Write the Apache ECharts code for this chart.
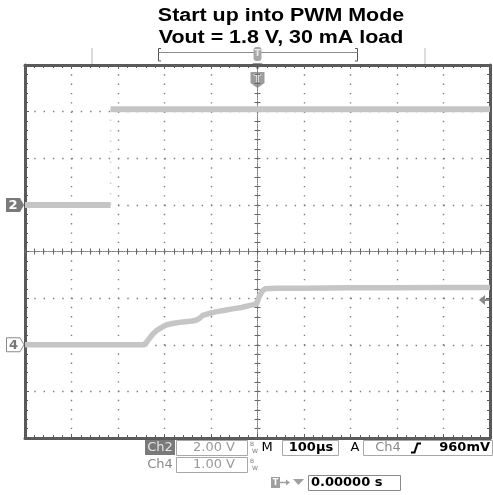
<!DOCTYPE html>
<html>
<head>
<meta charset="utf-8">
<script src="https://cdn.jsdelivr.net/npm/echarts@6/dist/echarts.min.js"></script>
<style>
  html, body { margin: 0; padding: 0; background: #ffffff; }
  #scope { width: 493px; height: 495px; }
</style>
</head>
<body>
<div id="scope"></div>
<script>
// ---- Acquisition: 100 µs/div, trigger at t = 0 (centre of screen) ----
const timeRange = [-500, 500];          // µs, 10 divisions
const divRange = [-4, 4];               // vertical divisions

// Ch2 (2.00 V/div, ground marker one division above centre)
const ch2Time  = [-500, -316, -316, 500];      // µs
const ch2Volts = [0.0, 0.0, 4.1, 4.1];         // V
const ch2VoltsPerDiv = 2.0;
const ch2GroundDiv = 1;

// Ch4 (1.00 V/div, ground marker two divisions below centre)
const ch4Time  = [-500, -300, -244, -238, -232, -225, -215, -205, -195, -180, -160,
                  -140, -131, -124, -118, -105, -88, -70, -54, -35, -18, -8, -2, 4, 10, 16,
                  40, 100, 200, 300, 400, 500];
const ch4Volts = [0.00, 0.00, 0.00, 0.06, 0.14, 0.23, 0.32, 0.38, 0.43, 0.46, 0.49,
                  0.51, 0.53, 0.57, 0.63, 0.67, 0.71, 0.74, 0.77, 0.80, 0.84, 0.86, 0.88, 1.04, 1.15, 1.20,
                  1.21, 1.21, 1.22, 1.22, 1.23, 1.23];
const ch4VoltsPerDiv = 1.0;
const ch4GroundDiv = -2;

// Trigger level on Ch4
const triggerLevelVolts = 0.96;

// Readout texts
const titleLines = ['Start up into PWM Mode', 'Vout = 1.8 V, 30 mA load'];
const ch2Scale = '2.00 V';
const ch4Scale = '1.00 V';
const timeScale = '100µs';
const triggerSource = 'Ch4';
const triggerLevelText = '960mV';
const triggerPosText = '0.00000 s';

function toDiv(volts, voltsPerDiv, groundDiv) {
  return volts / voltsPerDiv + groundDiv;
}

const ch2Pts = ch2Time.map((t, i) => [t, toDiv(ch2Volts[i], ch2VoltsPerDiv, ch2GroundDiv)]);
// the fast edge is not captured as a solid trace, only as faint dots
const ch2Trace = [ch2Pts[0], ch2Pts[1], [ch2Pts[1][0], '-'], ch2Pts[2], ch2Pts[3]];
const ch2Edge = [ch2Pts[1], ch2Pts[2]];
const ch4Pts = ch4Time.map((t, i) => [t, toDiv(ch4Volts[i], ch4VoltsPerDiv, ch4GroundDiv)]);

const frameColor = '#5a5a5a';
const gridDot = { color: '#7c7c7c', width: 1.4, type: [1.4, 7.9] };
const traceColor = '#c5c5c5';
const hidden = { show: false };

function frameAxis(position, withSplit, isX) {
  return {
    type: 'value',
    position: position,
    min: isX ? timeRange[0] : divRange[0],
    max: isX ? timeRange[1] : divRange[1],
    interval: isX ? 100 : 1,
    axisLine: { show: true, onZero: false, lineStyle: { color: frameColor, width: 3 } },
    axisTick: { show: true, inside: true, length: 4, lineStyle: { color: frameColor, width: 1 } },
    minorTick: { show: true, splitNumber: 5, length: 3, lineStyle: { color: frameColor, width: 1 } },
    axisLabel: hidden,
    splitLine: withSplit ? { show: true, lineStyle: gridDot } : hidden,
    minorSplitLine: hidden
  };
}

function centreAxis(position, inside, isX) {
  return {
    type: 'value',
    position: position,
    min: isX ? timeRange[0] : divRange[0],
    max: isX ? timeRange[1] : divRange[1],
    interval: isX ? 100 : 1,
    axisLine: { show: true, onZero: true, onZeroAxisIndex: 0,
                lineStyle: { color: '#808080', width: 1, type: [1, 1.3] } },
    axisTick: { show: true, inside: inside, length: 3, lineStyle: { color: '#666', width: 1 } },
    minorTick: { show: true, splitNumber: 5, length: 3, lineStyle: { color: '#666', width: 1 } },
    axisLabel: hidden,
    splitLine: hidden
  };
}

const chart = echarts.init(document.getElementById('scope'), null, { renderer: 'canvas' });

chart.setOption({
  animation: false,
  backgroundColor: '#ffffff',
  grid: { left: 25, right: 3, top: 65, bottom: 57, containLabel: false },
  xAxis: [
    frameAxis('bottom', true, true),
    frameAxis('top', false, true),
    centreAxis('bottom', false, true),
    centreAxis('bottom', true, true)
  ],
  yAxis: [
    frameAxis('left', true, false),
    frameAxis('right', false, false),
    centreAxis('left', false, false),
    centreAxis('left', true, false)
  ],
  series: [
    {
      name: 'Ch2', type: 'line', xAxisIndex: 0, yAxisIndex: 0,
      data: ch2Trace, showSymbol: false, connectNulls: false,
      lineStyle: { color: traceColor, width: 6, cap: 'butt' }, z: 5
    },
    {
      name: 'Ch2 edge', type: 'line', xAxisIndex: 0, yAxisIndex: 0,
      data: ch2Edge, showSymbol: false,
      lineStyle: { color: '#cfcfcf', width: 1.5, type: [1.5, 9] }, z: 5
    },
    {
      name: 'Ch4', type: 'line', xAxisIndex: 0, yAxisIndex: 0,
      data: ch4Pts, showSymbol: false,
      lineStyle: { color: traceColor, width: 5.5, join: 'round' }, z: 5
    }
  ]
});

// ---- Screen annotations ----
const px = (t, d) => chart.convertToPixel({ xAxisIndex: 0, yAxisIndex: 0 }, [t, d]);
const yCh2Gnd = px(0, ch2GroundDiv)[1];
const yCh4Gnd = px(0, ch4GroundDiv)[1];
const yTrig = px(0, toDiv(triggerLevelVolts, ch4VoltsPerDiv, ch4GroundDiv))[1];
const xTrig = px(0, 0)[0];
const xRight = px(timeRange[1], 0)[0];

const readFont = '"DejaVu Sans", sans-serif';
const g = [];

// title
titleLines.forEach((line, i) => {
  g.push({
    type: 'text', x: 281, y: 25 + i * 22, scaleX: 1.19,
    style: { x: 0, y: 0, text: line, fill: '#000', textAlign: 'center', textVerticalAlign: 'bottom',
             font: 'bold 18px "Liberation Sans", Arial, sans-serif' }
  });
});

// record-view bracket above the screen
const brk = '#8c8c8c';
g.push({ type: 'line', shape: { x1: 92, y1: 48, x2: 92, y2: 64 }, style: { stroke: '#bbb', lineWidth: 1 } });
g.push({ type: 'line', shape: { x1: 425, y1: 48, x2: 425, y2: 64 }, style: { stroke: '#bbb', lineWidth: 1 } });
g.push({ type: 'polyline', shape: { points: [[161, 48.5], [158.5, 48.5], [158.5, 61], [161, 61]] }, style: { stroke: '#555', lineWidth: 1, fill: null } });
g.push({ type: 'polyline', shape: { points: [[355, 48.5], [357.5, 48.5], [357.5, 61], [355, 61]] }, style: { stroke: '#555', lineWidth: 1, fill: null } });
g.push({ type: 'line', shape: { x1: 158.5, y1: 52.5, x2: 357.5, y2: 52.5 }, style: { stroke: brk, lineWidth: 1 } });
g.push({ type: 'rect', shape: { x: xTrig - 4, y: 47, width: 8, height: 14, r: 3 }, style: { fill: '#a8a8a8' } });
g.push({ type: 'text', style: { x: xTrig, y: 54, text: 'T', fill: '#e8e8e8', textAlign: 'center', textVerticalAlign: 'middle', font: 'bold 9px ' + readFont } });
g.push({ type: 'polygon', shape: { points: [[xTrig - 5, 63], [xTrig + 5, 63], [xTrig, 70]] }, style: { fill: '#9a9a9a' } });

// trigger position marker
g.push({ type: 'polygon', shape: { points: [[xTrig - 7, 72], [xTrig + 7, 72], [xTrig + 7, 83], [xTrig, 88], [xTrig - 7, 83]] }, style: { fill: '#9c9c9c' } });
g.push({ type: 'text', style: { x: xTrig, y: 79, text: 'T', fill: '#ffffff', textAlign: 'center', textVerticalAlign: 'middle', font: 'bold 11px ' + readFont } });

// channel ground markers
g.push({ type: 'polygon', shape: { points: [[6, yCh2Gnd - 7], [20, yCh2Gnd - 7], [24, yCh2Gnd], [20, yCh2Gnd + 7], [6, yCh2Gnd + 7]] }, style: { fill: '#7a7a7a' } });
g.push({ type: 'text', style: { x: 13, y: yCh2Gnd + 1, text: '2', fill: '#ffffff', textAlign: 'center', textVerticalAlign: 'middle', font: 'bold 13px ' + readFont } });
g.push({ type: 'polygon', shape: { points: [[6.5, yCh4Gnd - 7], [20, yCh4Gnd - 7], [24, yCh4Gnd], [20, yCh4Gnd + 7], [6.5, yCh4Gnd + 7]] }, style: { fill: '#ffffff', stroke: '#8a8a8a', lineWidth: 1 } });
g.push({ type: 'text', style: { x: 13.5, y: yCh4Gnd + 1, text: '4', fill: '#777', textAlign: 'center', textVerticalAlign: 'middle', font: 'bold 13px ' + readFont } });

// trigger level arrow at the right edge
g.push({ type: 'polygon', shape: { points: [[xRight - 11, yTrig], [xRight - 5, yTrig - 5], [xRight - 5, yTrig + 5]] }, style: { fill: '#8a8a8a' } });
g.push({ type: 'line', shape: { x1: xRight - 6, y1: yTrig, x2: xRight - 1, y2: yTrig }, style: { stroke: '#8a8a8a', lineWidth: 2 } });

// readouts, row 1
const boxStroke = '#a8a8a8';
g.push({ type: 'rect', shape: { x: 145, y: 440, width: 30, height: 15 }, style: { fill: '#7a7a7a' } });
g.push({ type: 'text', style: { x: 160, y: 448, text: 'Ch2', fill: '#e6e6e6', textAlign: 'center', textVerticalAlign: 'middle', font: '13px ' + readFont } });
g.push({ type: 'rect', shape: { x: 176.5, y: 440.5, width: 71, height: 15 }, style: { fill: null, stroke: boxStroke, lineWidth: 1 } });
g.push({ type: 'text', style: { x: 214, y: 448, text: ch2Scale, fill: '#9a9a9a', textAlign: 'center', textVerticalAlign: 'middle', font: '13px ' + readFont } });
g.push({ type: 'text', style: { x: 252, y: 444, text: 'B', fill: '#777', textAlign: 'center', textVerticalAlign: 'middle', font: '6px ' + readFont } });
g.push({ type: 'text', style: { x: 255, y: 451, text: 'W', fill: '#777', textAlign: 'center', textVerticalAlign: 'middle', font: '6px ' + readFont } });
g.push({ type: 'text', style: { x: 267, y: 448, text: 'M', fill: '#000', textAlign: 'center', textVerticalAlign: 'middle', font: '13px ' + readFont } });
g.push({ type: 'rect', shape: { x: 282.5, y: 440.5, width: 56, height: 15 }, style: { fill: null, stroke: boxStroke, lineWidth: 1 } });
g.push({ type: 'text', style: { x: 311, y: 448, text: timeScale, fill: '#000', textAlign: 'center', textVerticalAlign: 'middle', font: 'bold 13px ' + readFont } });
g.push({ type: 'text', style: { x: 355, y: 448, text: 'A', fill: '#000', textAlign: 'center', textVerticalAlign: 'middle', font: '13px ' + readFont } });
g.push({ type: 'rect', shape: { x: 363.5, y: 440.5, width: 129, height: 15 }, style: { fill: null, stroke: boxStroke, lineWidth: 1 } });
g.push({ type: 'text', style: { x: 388, y: 448, text: triggerSource, fill: '#8a8a8a', textAlign: 'center', textVerticalAlign: 'middle', font: '13px ' + readFont } });
g.push({ type: 'polyline', shape: { points: [[411, 452.5], [414.5, 452.5], [417.5, 443.5], [421, 443.5]] }, style: { stroke: '#000', lineWidth: 2, fill: null } });
g.push({ type: 'text', style: { x: 490, y: 448, text: triggerLevelText, fill: '#000', textAlign: 'right', textVerticalAlign: 'middle', font: 'bold 13px ' + readFont } });

// readouts, row 2
g.push({ type: 'text', style: { x: 160, y: 465, text: 'Ch4', fill: '#8a8a8a', textAlign: 'center', textVerticalAlign: 'middle', font: '13px ' + readFont } });
g.push({ type: 'rect', shape: { x: 176.5, y: 457.5, width: 71, height: 15 }, style: { fill: null, stroke: boxStroke, lineWidth: 1 } });
g.push({ type: 'text', style: { x: 214, y: 465, text: ch4Scale, fill: '#9a9a9a', textAlign: 'center', textVerticalAlign: 'middle', font: '13px ' + readFont } });
g.push({ type: 'text', style: { x: 252, y: 461, text: 'B', fill: '#777', textAlign: 'center', textVerticalAlign: 'middle', font: '6px ' + readFont } });
g.push({ type: 'text', style: { x: 255, y: 468, text: 'W', fill: '#777', textAlign: 'center', textVerticalAlign: 'middle', font: '6px ' + readFont } });

// readouts, row 3 (trigger position)
g.push({ type: 'rect', shape: { x: 271, y: 477, width: 9, height: 11 }, style: { fill: '#a0a0a0' } });
g.push({ type: 'text', style: { x: 275.5, y: 482.5, text: 'T', fill: '#fff', textAlign: 'center', textVerticalAlign: 'middle', font: 'bold 8px ' + readFont } });
g.push({ type: 'line', shape: { x1: 280, y1: 482.5, x2: 287, y2: 482.5 }, style: { stroke: '#a0a0a0', lineWidth: 1.5 } });
g.push({ type: 'polygon', shape: { points: [[286, 479.5], [290, 482.5], [286, 485.5]] }, style: { fill: '#a0a0a0' } });
g.push({ type: 'polygon', shape: { points: [[293, 479], [304, 479], [298.5, 485]] }, style: { fill: '#a0a0a0' } });
g.push({ type: 'rect', shape: { x: 308.5, y: 475.5, width: 92, height: 15 }, style: { fill: null, stroke: '#8a8a8a', lineWidth: 1 } });
g.push({ type: 'text', style: { x: 311, y: 483, text: triggerPosText, fill: '#000', textAlign: 'left', textVerticalAlign: 'middle', font: 'bold 13px ' + readFont } });

chart.setOption({ graphic: { elements: g } });
</script>
</body>
</html>
